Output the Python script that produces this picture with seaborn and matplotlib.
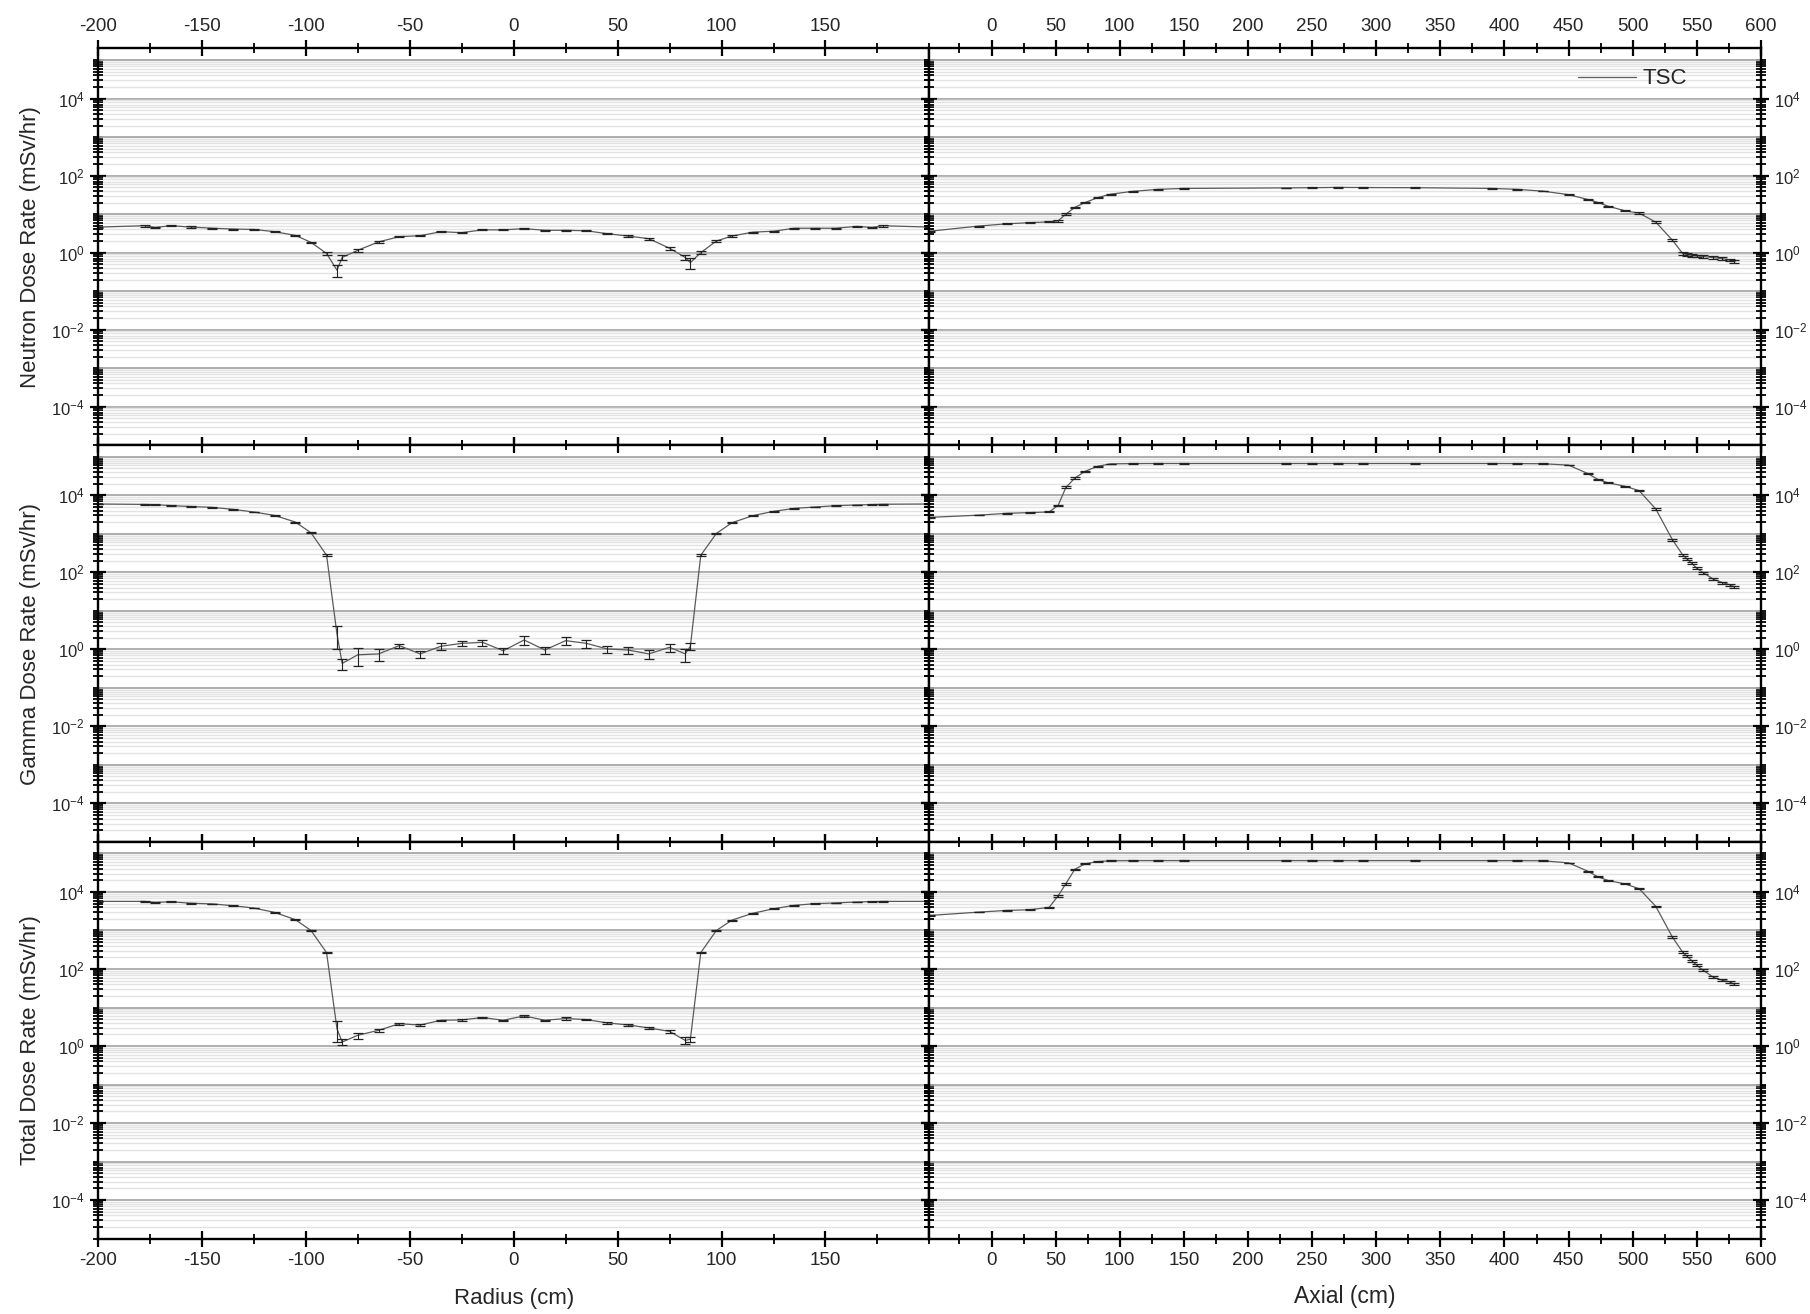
import numpy as np
import pandas as pd
import matplotlib
matplotlib.use('Agg')
import matplotlib.pyplot as plt
import matplotlib.ticker as mticker
import seaborn as sns

# radial traverse (cm)
radius = [-200, -177.5, -172.5, -165, -155, -145, -135, -125, -115, -105, -97.5, -90, -85, -82.5,
          -75, -65, -55, -45, -35, -25, -15, -5, 5, 15, 25, 35, 45, 55, 65, 75, 82.5, 85,
          90, 97.5, 105, 115, 125, 135, 145, 155, 165, 172.5, 177.5, 200]

neutron_radial = [4.6, 5.0, 4.5, 5.0, 4.6, 4.3, 4.1, 4.0, 3.5, 2.8, 1.85, 0.95, 0.35, 0.75,
                  1.15, 1.9, 2.6, 2.75, 3.5, 3.3, 3.9, 3.9, 4.2, 3.8, 3.8, 3.7, 3.1, 2.7, 2.3, 1.3, 0.75, 0.55,
                  1.0, 2.0, 2.7, 3.4, 3.6, 4.3, 4.3, 4.3, 4.8, 4.5, 5.0, 4.6]
neutron_radial_err = [0.03, 0.05, 0.05, 0.04, 0.04, 0.03, 0.03, 0.03, 0.04, 0.04, 0.05, 0.08, 0.35, 0.15,
                      0.07, 0.05, 0.04, 0.04, 0.03, 0.03, 0.03, 0.03, 0.03, 0.03, 0.03, 0.03, 0.04, 0.04, 0.05, 0.08, 0.15, 0.3,
                      0.08, 0.05, 0.04, 0.04, 0.03, 0.03, 0.03, 0.03, 0.04, 0.05, 0.05, 0.03]

gamma_radial = [5940, 5800, 5700, 5400, 5100, 4860, 4310, 3680, 3000, 2015, 1060, 277, 2.5, 0.43,
                0.72, 0.76, 1.25, 0.76, 1.2, 1.43, 1.52, 0.92, 1.75, 0.96, 1.68, 1.43, 1.02, 0.96, 0.76, 1.13, 0.76, 1.2,
                277, 1020, 1940, 2950, 3830, 4570, 4960, 5370, 5620, 5740, 5860, 5940]
gamma_radial_err = [0.02, 0.03, 0.02, 0.02, 0.02, 0.02, 0.02, 0.02, 0.02, 0.03, 0.03, 0.05, 0.6, 0.33,
                    0.5, 0.33, 0.13, 0.21, 0.2, 0.17, 0.18, 0.18, 0.26, 0.2, 0.25, 0.23, 0.22, 0.19, 0.26, 0.25, 0.37, 0.2,
                    0.05, 0.03, 0.03, 0.02, 0.02, 0.02, 0.02, 0.02, 0.02, 0.02, 0.02, 0.02]

total_radial = [5710, 5700, 5370, 5560, 5100, 4900, 4400, 3830, 2950, 1910, 1000, 266, 2.8, 1.27,
                1.9, 2.56, 3.8, 3.5, 4.67, 4.76, 5.5, 4.67, 6.06, 4.67, 5.17, 4.86, 3.98, 3.53, 2.95, 2.4, 1.4, 1.5,
                266, 1000, 1860, 2800, 3670, 4500, 4970, 5200, 5500, 5600, 5700, 5710]
total_radial_err = [0.02, 0.03, 0.03, 0.02, 0.02, 0.02, 0.02, 0.02, 0.02, 0.03, 0.03, 0.05, 0.55, 0.17,
                    0.18, 0.08, 0.05, 0.05, 0.04, 0.04, 0.05, 0.04, 0.08, 0.04, 0.07, 0.05, 0.04, 0.04, 0.06, 0.08, 0.2, 0.15,
                    0.05, 0.03, 0.03, 0.02, 0.02, 0.02, 0.02, 0.02, 0.02, 0.02, 0.02, 0.02]

# axial traverse (cm)
axial = [-48, -10, 12, 30, 45, 52, 58, 65, 73, 83, 93, 110, 130, 150, 230, 250, 270, 290, 330,
         390, 410, 430, 450, 465, 473, 481, 494, 505, 518, 531, 539, 542, 546, 550, 555, 563, 570, 576, 579]

neutron_axial = [3.6, 4.9, 5.6, 6.0, 6.3, 6.7, 10, 15, 20, 27, 33, 39, 44, 46.5, 48, 48.5, 49.5, 49, 48.5,
                 46.5, 44, 39.5, 32, 24, 20, 16, 12.2, 10.6, 6.2, 2.1, 0.95, 0.9, 0.85, 0.82, 0.8, 0.74, 0.7, 0.64, 0.6]
neutron_axial_err = [0.04, 0.03, 0.03, 0.03, 0.03, 0.04, 0.05, 0.05, 0.04, 0.03, 0.03, 0.02, 0.02, 0.02, 0.02, 0.02, 0.02, 0.02, 0.02,
                     0.02, 0.02, 0.02, 0.03, 0.03, 0.03, 0.04, 0.04, 0.04, 0.04, 0.05, 0.08, 0.08, 0.08, 0.08, 0.08, 0.08, 0.08, 0.08, 0.08]

gamma_axial = [2670, 3050, 3400, 3550, 3700, 5500, 16000, 28000, 42000, 57000, 65500, 66500, 67000, 67000, 67000, 67000, 67000, 67000, 67000,
               67000, 66500, 66000, 60600, 36700, 25600, 21000, 17200, 13200, 4400, 700, 283, 228, 172, 127, 98, 66, 54, 47, 42]
gamma_axial_err = [0.02, 0.02, 0.02, 0.02, 0.03, 0.04, 0.06, 0.04, 0.03, 0.02, 0.02, 0.02, 0.02, 0.02, 0.02, 0.02, 0.02, 0.02, 0.02,
                   0.02, 0.02, 0.02, 0.02, 0.03, 0.03, 0.03, 0.03, 0.03, 0.04, 0.05, 0.06, 0.06, 0.06, 0.06, 0.06, 0.06, 0.06, 0.06, 0.06]

total_axial = [2460, 3000, 3320, 3460, 4000, 8000, 16500, 39000, 53800, 61800, 64500, 65000, 65000, 65000, 65000, 65000, 65000, 65000, 65000,
               65000, 65000, 64500, 57000, 34600, 24600, 19800, 16200, 12200, 4230, 670, 272, 219, 165, 125, 92, 61, 51, 46, 40.5]
total_axial_err = [0.02, 0.02, 0.02, 0.02, 0.03, 0.05, 0.06, 0.04, 0.03, 0.02, 0.02, 0.02, 0.02, 0.02, 0.02, 0.02, 0.02, 0.02, 0.02,
                   0.02, 0.02, 0.02, 0.02, 0.03, 0.03, 0.03, 0.03, 0.03, 0.04, 0.05, 0.06, 0.06, 0.06, 0.06, 0.06, 0.06, 0.06, 0.06, 0.06]

row_labels = ['Neutron Dose Rate (mSv/hr)', 'Gamma Dose Rate (mSv/hr)', 'Total Dose Rate (mSv/hr)']

sns.set_style('white')
plt.rcParams['font.family'] = ['Liberation Sans', 'DejaVu Sans']
plt.rcParams['mathtext.default'] = 'regular'
plt.rcParams['axes.unicode_minus'] = False

fig, axes = plt.subplots(3, 2, figsize=(18.1, 13.14), dpi=100,
                         gridspec_kw=dict(wspace=0, hspace=0))
fig.subplots_adjust(left=0.0541, right=0.9729, top=0.9631, bottom=0.0574)

radial_sets = [(neutron_radial, neutron_radial_err), (gamma_radial, gamma_radial_err), (total_radial, total_radial_err)]
axial_sets = [(neutron_axial, neutron_axial_err), (gamma_axial, gamma_axial_err), (total_axial, total_axial_err)]

even_decades = [1e-4, 1e-2, 1e0, 1e2, 1e4]
odd_decades = [1e-5, 1e-3, 1e-1, 1e1, 1e3, 1e5]
minor_vals = [k * 10.0 ** e for e in range(-5, 6) for k in range(2, 10) if k * 10.0 ** e < 2e5]

def style_axis(ax):
    ax.set_yscale('log')
    ax.set_ylim(1e-5, 2e5)
    # labelled decades as major ticks, the rest as minor ones
    ax.yaxis.set_major_locator(mticker.FixedLocator(even_decades))
    ax.yaxis.set_major_formatter(mticker.FixedFormatter([r'$10^{-4}$', r'$10^{-2}$', r'$10^{0}$', r'$10^{2}$', r'$10^{4}$']))
    ax.yaxis.set_minor_locator(mticker.FixedLocator(minor_vals + odd_decades))
    ax.yaxis.set_minor_formatter(mticker.NullFormatter())
    ax.grid(which='major', axis='y', color='#a9a9a9', lw=1.3)
    ax.grid(which='minor', axis='y', color='#e3e3e3', lw=1.0)
    ax.grid(which='both', axis='x', visible=False)
    for v in odd_decades:
        ax.axhline(v, color='#a9a9a9', lw=1.3, zorder=0.6)
    for s in ax.spines.values():
        s.set_linewidth(1.7)
        s.set_color('black')
    ax.tick_params(which='major', direction='inout', length=12, width=1.6, color='black',
                   top=True, bottom=True, left=True, right=True)
    ax.tick_params(which='minor', direction='inout', length=7, width=1.3, color='black',
                   top=True, bottom=True, left=True, right=True)

for i in range(3):
    axl = axes[i, 0]
    axr = axes[i, 1]

    y, e = radial_sets[i]
    sns.lineplot(x=radius, y=y, ax=axl, color='#5a5a5a', lw=0.9, estimator=None, sort=False)
    axl.errorbar(radius, y, yerr=np.array(y) * np.array(e), fmt='none', ecolor='#222222',
                 elinewidth=0.8, capsize=3.5, capthick=0.9)

    y, e = axial_sets[i]
    sns.lineplot(x=axial, y=y, ax=axr, color='#5a5a5a', lw=0.9, estimator=None, sort=False,
                 label='TSC' if i == 0 else None)
    axr.errorbar(axial, y, yerr=np.array(y) * np.array(e), fmt='none', ecolor='#222222',
                 elinewidth=0.8, capsize=3.5, capthick=0.9)

    for ax in (axl, axr):
        style_axis(ax)

    axl.set_xlim(-200, 200)
    axl.xaxis.set_major_locator(mticker.FixedLocator(np.arange(-200, 200, 50)))
    axl.xaxis.set_minor_locator(mticker.MultipleLocator(25))
    axr.set_xlim(-48.4, 600)
    axr.xaxis.set_major_locator(mticker.MultipleLocator(50))
    axr.xaxis.set_minor_locator(mticker.MultipleLocator(25))

    axl.set_ylabel(row_labels[i], fontsize=16)
    axl.yaxis.set_label_coords(-0.069, 0.5)
    axl.tick_params(axis='y', labelleft=True, labelright=False, labelsize=12)
    axr.set_ylabel('')
    axr.tick_params(axis='y', labelleft=False, labelright=True, labelsize=12)

    top = i == 0
    bottom = i == 2
    for ax in (axl, axr):
        ax.tick_params(axis='x', labeltop=top, labelbottom=bottom, labelsize=13.5)

axes[2, 0].set_xlabel('Radius (cm)', fontsize=16, labelpad=14)
axes[2, 1].set_xlabel('Axial (cm)', fontsize=16.5, labelpad=12)
for ax in axes[:2].ravel():
    ax.set_xlabel('')

leg = axes[0, 1].legend(loc='upper right', bbox_to_anchor=(0.935, 1.0), frameon=False,
                        fontsize=16, handlelength=2.6, handletextpad=0.3)

plt.savefig('out.png', dpi=100)
